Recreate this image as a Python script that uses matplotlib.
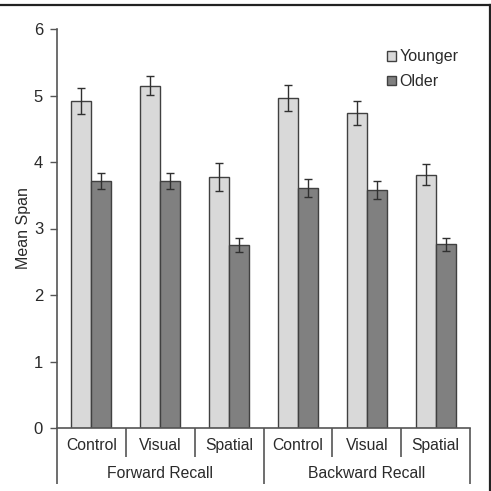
import numpy as np
import matplotlib
matplotlib.use('Agg')
from matplotlib import pyplot as plt
from matplotlib.lines import Line2D

plt.rcParams['font.family'] = ['Liberation Sans', 'DejaVu Sans']

conditions = ['Control', 'Visual', 'Spatial', 'Control', 'Visual', 'Spatial']
recall_groups = ['Forward Recall', 'Backward Recall']
younger = [4.92, 5.15, 3.77, 4.96, 4.73, 3.81]
younger_err = [0.20, 0.14, 0.21, 0.20, 0.18, 0.16]
older = [3.72, 3.71, 2.75, 3.61, 3.58, 2.76]
older_err = [0.12, 0.12, 0.11, 0.13, 0.13, 0.10]


def main():
    fig = plt.figure(figsize=(4.91, 4.91), dpi=100)
    W, H = 491, 491
    # axes: x from 57 to 470 px, y from 29 (6) to 428 (0) px
    ax = fig.add_axes([57 / W, 1 - 428 / H, (470 - 57) / W, (428 - 29) / H])

    x = np.arange(len(conditions))
    w = 0.29
    ax.bar(x - w / 2, younger, w, color='#d9d9d9', edgecolor='#404040',
           linewidth=1.0, label='Younger', zorder=2)
    ax.bar(x + w / 2, older, w, color='#808080', edgecolor='#404040',
           linewidth=1.0, label='Older', zorder=2)
    ax.errorbar(x - w / 2, younger, yerr=younger_err, fmt='none',
                ecolor='#303030', elinewidth=1.0, capsize=3, capthick=1.0, zorder=3)
    ax.errorbar(x + w / 2, older, yerr=older_err, fmt='none',
                ecolor='#303030', elinewidth=1.0, capsize=3, capthick=1.0, zorder=3)

    ax.set_xlim(-0.5, len(conditions) - 0.5)
    ax.set_ylim(0, 6)
    ax.set_yticks(range(0, 7))
    ax.tick_params(axis='y', length=5, width=1, color='#555555',
                   labelsize=12, labelcolor='#2a2a2a', pad=5)
    ax.set_xticks([])
    for s in ['top', 'right']:
        ax.spines[s].set_visible(False)
    for s in ['left', 'bottom']:
        ax.spines[s].set_color('#555555')
        ax.spines[s].set_linewidth(1.2)
    ax.set_ylabel('Mean Span', fontsize=11.5, color='#2a2a2a', labelpad=2)

    # two-level category axis
    sep_col = '#555555'
    for i in range(len(conditions) + 1):
        xs = i - 0.5
        depth = -0.84 if i % 3 == 0 else -0.43
        ax.plot([xs, xs], [0, depth], color=sep_col, lw=1.2,
                clip_on=False, solid_capstyle='butt')
    for i, c in enumerate(conditions):
        ax.text(i, -0.26, c, ha='center', va='center', fontsize=11.3,
                color='#2a2a2a', clip_on=False)
    for j, g in enumerate(recall_groups):
        ax.text(j * 3 + 1, -0.69, g, ha='center', va='center', fontsize=11.3,
                color='#2a2a2a', clip_on=False)

    handles = [
        plt.Rectangle((0, 0), 1, 1, facecolor='#d9d9d9', edgecolor='#404040', lw=1),
        plt.Rectangle((0, 0), 1, 1, facecolor='#808080', edgecolor='#404040', lw=1),
    ]
    ax.legend(handles, ['Younger', 'Older'], loc='upper left',
              bbox_to_anchor=((381 - 57) / (470 - 57), 1 - (43 - 29) / (428 - 29)),
              frameon=False, fontsize=11.5, handlelength=0.55, handleheight=0.55,
              handletextpad=0.2, labelspacing=0.6, borderaxespad=0,
              labelcolor='#2a2a2a')

    # image frame (top and right)
    fig.add_artist(Line2D([0, 489.5 / W], [1 - 5 / H, 1 - 5 / H],
                          color='#222222', lw=1.6, transform=fig.transFigure))
    fig.add_artist(Line2D([489.5 / W, 489.5 / W], [1 - 5 / H, 0],
                          color='#222222', lw=1.6, transform=fig.transFigure))

    fig.savefig('out.png', dpi=100)


if __name__ == "__main__":
    main()
